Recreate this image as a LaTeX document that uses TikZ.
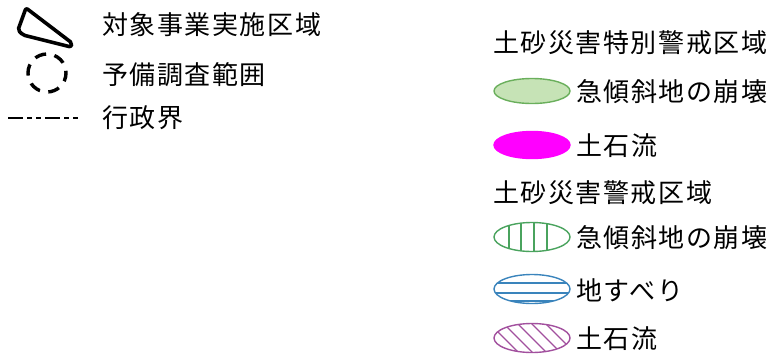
\documentclass[tikz,border=0pt]{standalone}
\usepackage{fontspec}
\newfontfamily\jpfont[LetterSpace=6]{Noto Sans CJK JP}
\usepackage{tikz}
\usetikzlibrary{positioning}
\definecolor{lgSlope}{HTML}{C6E3B6}
\definecolor{lgSlopeLine}{HTML}{6AAF5C}
\definecolor{lgDebris}{HTML}{FF00FF}
\definecolor{lgHatchG}{HTML}{4AA35E}
\definecolor{lgHatchB}{HTML}{3A84BC}
\definecolor{lgHatchP}{HTML}{A2509E}

\begin{document}
\begin{tikzpicture}[x=1pt, y=-1pt,
  lbl/.style={anchor=west, inner sep=0pt, font=\jpfont\fontsize{26}{30}\selectfont},
  zone/.style={line width=1.4pt},
]
  \useasboundingbox (0,0) rectangle (774,362);

  % left legend
  \draw[line width=3.6pt, rounded corners=2pt, line join=round]
    (26,8) -- (18,30) -- (23,35) -- (71,47) -- (72,43) -- cycle;
  \node[lbl] (site) at (102,25) {対象事業実施区域};
  \draw[line width=3.4pt, dash pattern=on 11.5pt off 8.5pt, dash phase=3pt]
    (47,73) circle [radius=19];
  \node[lbl] (survey) at (102,75) {予備調査範囲};
  \coordinate (bndA) at (8,118);
  \coordinate (bndB) at (78,118);
  \draw[line width=1.3pt, dash pattern=on 15pt off 4pt on 5pt off 4pt on 5pt off 4pt]
    (bndA) -- (bndB);
  \node[lbl] (border) at (102,118) {行政界};

  % special warning zone
  \node[lbl] (headA) at (493,43) {土砂災害特別警戒区域};
  \draw[zone, draw=lgSlopeLine, fill=lgSlope] (532,91) ellipse [x radius=38, y radius=12.5];
  \node[lbl] (slopeA) at (576,92) {急傾斜地の崩壊};
  \draw[zone, draw=lgDebris, fill=lgDebris] (532,145) ellipse [x radius=38, y radius=13.5];
  \node[lbl] (debrisA) at (576,146) {土石流};

  % warning zone
  \node[lbl] (headB) at (493,193) {土砂災害警戒区域};
  \begin{scope}
    \clip (532,237) ellipse [x radius=38, y radius=14.5];
    \foreach \x in {509,521,534,547}
      \draw[zone, lgHatchG] (\x,220) -- (\x,254);
  \end{scope}
  \draw[zone, lgHatchG] (532,237) ellipse [x radius=38, y radius=14.5];
  \node[lbl] (slopeB) at (576,238) {急傾斜地の崩壊};

  \begin{scope}
    \clip (532,289) ellipse [x radius=38, y radius=14.5];
    \foreach \y in {283,293,301}
      \draw[zone, lgHatchB] (490,\y) -- (574,\y);
  \end{scope}
  \draw[zone, lgHatchB] (532,289) ellipse [x radius=38, y radius=14.5];
  \node[lbl] (slide) at (576,290) {地すべり};

  \begin{scope}
    \clip (532,338) ellipse [x radius=38, y radius=14.5];
    \foreach \o in {-42,-28,-14,0,14,28,42}
      \draw[zone, lgHatchP] (532+\o-16,322) -- (532+\o+16,354);
  \end{scope}
  \draw[zone, lgHatchP] (532,338) ellipse [x radius=38, y radius=14.5];
  \node[lbl] (debrisB) at (576,339) {土石流};
\end{tikzpicture}
\end{document}
